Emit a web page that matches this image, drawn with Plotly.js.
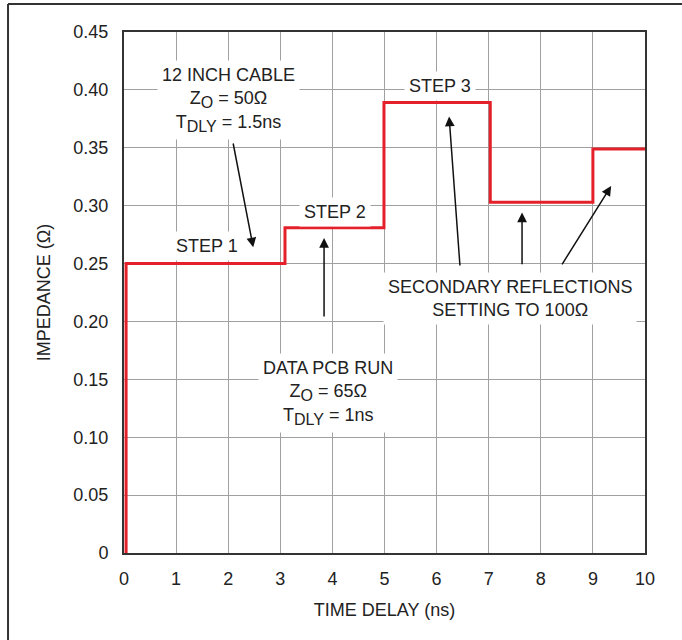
<!DOCTYPE html>
<html>
<head>
<meta charset="utf-8">
<script src="https://cdn.plot.ly/plotly-3.0.1.min.js"></script>
<style>html,body{margin:0;padding:0;background:#fff;}#chart{width:682px;height:640px;}</style>
</head>
<body>
<div id="chart"></div>
<script>
// Step response data (time in ns, impedance)
var timeNs = [0.04, 0.04, 3.09, 4.99, 7.03, 9.0, 10];
var impedance = [0, 0.25, 0.281, 0.389, 0.303, 0.349, 0.349];
var xTicks = [0, 1, 2, 3, 4, 5, 6, 7, 8, 9, 10];
var yTicks = [0, 0.05, 0.10, 0.15, 0.20, 0.25, 0.30, 0.35, 0.40, 0.45];
var yTickText = ["0", "0.05", "0.10", "0.15", "0.20", "0.25", "0.30", "0.35", "0.40", "0.45"];

function sub(s) { return '<sub><span style="font-size:16px">' + s + '</span></sub>'; }

var labels = [
  {text: "12 INCH CABLE<br>Z" + sub("O") + " = 50Ω<br>T" + sub("DLY") + " = 1.5ns", x: 2.0, y: 0.391},
  {text: "STEP 1", x: 1.59, y: 0.265},
  {text: "STEP 2", x: 4.05, y: 0.2945},
  {text: "STEP 3", x: 6.07, y: 0.403},
  {text: "SECONDARY REFLECTIONS<br>SETTING TO 100Ω", x: 7.41, y: 0.2198},
  {text: "DATA PCB RUN<br>Z" + sub("O") + " = 65Ω<br>T" + sub("DLY") + " = 1ns", x: 3.92, y: 0.138}
];
// arrows: tail (x0,y0) -> head (x1,y1)
var arrows = [
  [2.09, 0.355, 2.48, 0.264],
  [3.84, 0.203, 3.84, 0.272],
  [6.45, 0.247, 6.24, 0.377],
  [7.64, 0.248, 7.64, 0.294],
  [8.39, 0.248, 9.35, 0.317]
];

var font = {family: "Liberation Sans, Arial, sans-serif", size: 18, color: "#222"};
var tickFont = {family: "Liberation Sans, Arial, sans-serif", size: 18, color: "#222"};

var annotations = labels.map(function (l) {
  return {text: l.text, x: l.x, y: l.y, xref: "x", yref: "y", showarrow: false,
    bgcolor: "#fff", font: font, align: "center", borderpad: 4};
});
arrows.forEach(function (a) {
  annotations.push({x: a[2], y: a[3], ax: a[0], ay: a[1], xref: "x", yref: "y",
    axref: "x", ayref: "y", text: "", showarrow: true, arrowhead: 2, arrowsize: 1.3,
    arrowwidth: 1.5, arrowcolor: "#111"});
});

var trace = {x: timeNs, y: impedance, mode: "lines", type: "scatter",
  line: {shape: "hv", color: "#e4202b", width: 3}, hoverinfo: "skip"};

var layout = {
  width: 682, height: 640,
  margin: {l: 124, r: 37, t: 32, b: 87},
  paper_bgcolor: "#fff", plot_bgcolor: "#fff",
  showlegend: false,
  font: font,
  xaxis: {range: [0, 10], tickvals: xTicks, ticktext: xTicks.map(String),
    showgrid: true, gridcolor: "#a0a0a0", gridwidth: 1, zeroline: false,
    showline: true, linecolor: "#333", linewidth: 2, mirror: true, ticks: "",
    ticklabelstandoff: 8, tickfont: tickFont,
    title: {text: "TIME DELAY (ns)", font: font, standoff: 16}},
  yaxis: {range: [0, 0.45], tickvals: yTicks, ticktext: yTickText,
    showgrid: true, gridcolor: "#a0a0a0", gridwidth: 1, zeroline: false,
    showline: true, linecolor: "#333", linewidth: 2, mirror: true, ticks: "",
    ticklabelstandoff: 10, tickfont: tickFont,
    title: {text: "IMPEDANCE (Ω)", font: font, standoff: 18}},
  annotations: annotations,
  shapes: [
    {type: "line", xref: "paper", yref: "paper", x0: -0.2226, x1: -0.2226, y0: -0.2, y1: 1.0537, line: {color: "#333", width: 2}},
    {type: "line", xref: "paper", yref: "paper", x0: -0.2226, x1: 1.1, y0: 1.0537, y1: 1.0537, line: {color: "#333", width: 2}}
  ]
};

Plotly.newPlot("chart", [trace], layout, {displayModeBar: false, staticPlot: true});
</script>
</body>
</html>
